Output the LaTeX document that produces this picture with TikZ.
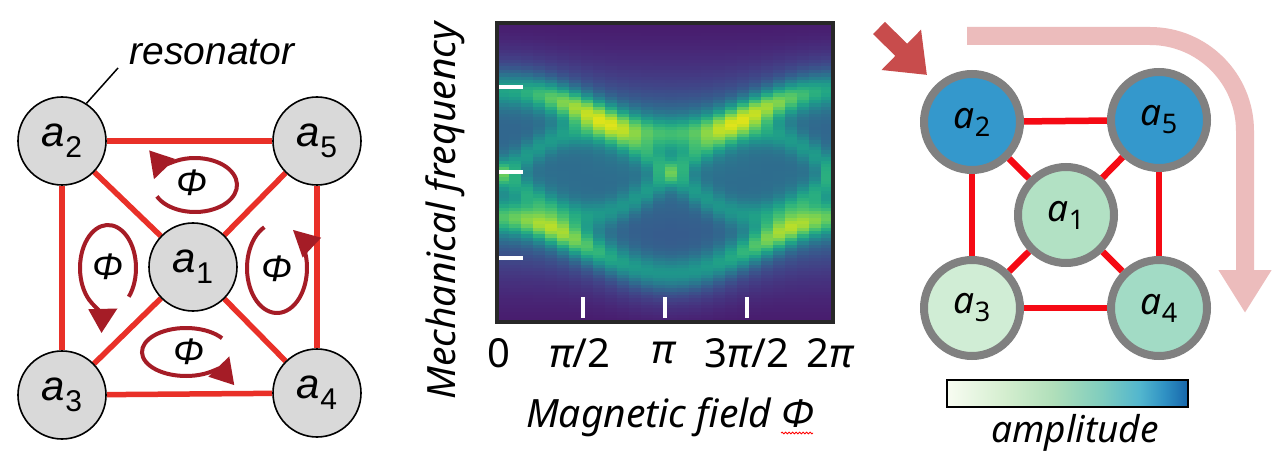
\documentclass[tikz,border=0pt]{standalone}
\usepackage{fontspec}
\setmainfont{Liberation Sans}
\newfontfamily\seg{Noto Sans}
\usepackage{pgfplots}
\pgfplotsset{compat=1.18}
\usetikzlibrary{arrows.meta,backgrounds,decorations.pathmorphing}
\definecolor{lgray}{RGB}{217,217,217}
\definecolor{lred}{RGB}{233,48,40}
\definecolor{loopred}{RGB}{165,28,38}
\definecolor{rred}{RGB}{245,10,20}
\definecolor{ringgray}{RGB}{128,128,128}
\definecolor{cblue}{RGB}{52,152,204}
\definecolor{cgA}{RGB}{178,225,196}
\definecolor{cgC}{RGB}{208,237,213}
\definecolor{cgD}{RGB}{162,219,197}
\definecolor{framegray}{RGB}{40,40,40}
\definecolor{bigred}{RGB}{200,76,76}
\definecolor{pinkarrow}{RGB}{236,188,188}
\definecolor{amA}{RGB}{248,252,242}
\definecolor{amB}{RGB}{212,238,207}
\definecolor{amC}{RGB}{176,223,186}
\definecolor{amD}{RGB}{128,205,190}
\definecolor{amE}{RGB}{82,182,206}
\definecolor{amF}{RGB}{48,146,196}
\definecolor{amG}{RGB}{22,102,170}
\pgfdeclarehorizontalshading{ampl}{100bp}{color(0bp)=(amA); color(25bp)=(amA); color(37bp)=(amB); color(47bp)=(amC); color(57bp)=(amD); color(65bp)=(amE); color(70bp)=(amF); color(75bp)=(amG); color(100bp)=(amG)}
\newcommand{\llab}[1]{{\fontsize{42}{42}\selectfont\itshape a}\raisebox{-11pt}{\fontsize{30}{30}\selectfont #1}}
\newcommand{\rlab}[1]{{\seg\fontsize{37}{37}\selectfont\itshape a}\raisebox{-8pt}{\seg\fontsize{27}{27}\selectfont #1}}
\tikzset{
  lnode/.style={circle, draw=black, line width=1.6pt, fill=lgray, minimum size=88pt, inner sep=0pt},
  rnode/.style={circle, draw=ringgray, line width=8pt, minimum size=96pt, inner sep=0pt},
  ledge/.style={lred, line width=5.5pt},
  redge/.style={rred, line width=6.5pt},
  philoop/.style={loopred, line width=4pt, -{Triangle[length=26pt,width=26pt]}},
  phitext/.style={font=\fontsize{37}{37}\selectfont\itshape, inner sep=0pt},
  whitetick/.style={white, line width=4pt},
  ticklab/.style={font=\seg\fontsize{40}{40}\selectfont, inner sep=0pt},
  axlab/.style={font=\seg\fontsize{39}{39}\selectfont\itshape, inner sep=0pt},
}
\begin{document}
\begin{tikzpicture}[x=1pt,y=1pt]
\useasboundingbox (0,0) rectangle (1280,-465);
\begin{pgfonlayer}{background}
\fill[white] (0,0) rectangle (1280,-465);
\end{pgfonlayer}

% ---------- left panel ----------
\node[lnode] (L1) at (193,-267) {\llab{1}};
\node[lnode] (L2) at (62,-141) {\llab{2}};
\node[lnode] (L5) at (317,-141) {\llab{5}};
\node[lnode] (L3) at (62,-395) {\llab{3}};
\node[lnode] (L4) at (317,-393) {\llab{4}};
\begin{pgfonlayer}{background}
\draw[ledge] (L2) -- (L5);
\draw[ledge] (L3) -- (L4);
\draw[ledge] (L2) -- (L3);
\draw[ledge] (L5) -- (L4);
\draw[ledge] (L1) -- (L2);
\draw[ledge] (L1) -- (L3);
\draw[ledge] (L1) -- (L4);
\draw[ledge] (L1) -- (L5);
\end{pgfonlayer}
\node[font=\fontsize{39}{39}\selectfont\itshape, inner sep=0pt] (res) at (212,-52) {resonator};
\coordinate (resl) at (118,-68);
\draw[black, line width=1.5pt] (L2.57) -- (resl);

% flux loops
\draw[philoop] (195,-185) ++(205:42 and 27) arc[start angle=205, end angle=528, x radius=42, y radius=27];
\draw[philoop] (108,-268) ++(318:28 and 43) arc[start angle=318, end angle=650, x radius=28, y radius=43];
\draw[philoop] (277,-268) ++(115:30 and 45) arc[start angle=115, end angle=418, x radius=30, y radius=45];
\draw[philoop] (186,-352) ++(35:44 and 24) arc[start angle=35, end angle=350, x radius=44, y radius=24];
\node[phitext] (p1) at (192,-183) {Φ};
\node[phitext] (p2) at (108,-267) {Φ};
\node[phitext] (p3) at (277,-269) {Φ};
\node[phitext] (p4) at (189,-352) {Φ};

% ---------- middle panel ----------
\begin{axis}[at={(497pt,-322pt)}, anchor=south west, width=336pt, height=299pt,
  scale only axis, hide axis, view={0}{90}, xmin=0, xmax=1, ymin=23, ymax=322,
  y dir=reverse, colormap/viridis, point meta min=0, point meta max=1,
  enlargelimits=false, declare function={gs(\t)=exp(-(\t)*(\t));}]
\addplot3[surf, shader=flat corner, samples=29, samples y=90, domain=0:1, domain y=23:322]
{0.04 + 0.31*gs((y-172)/100)
 + (0.26+0.24*sin(360*x)*sin(360*x))*gs((y-110+22*cos(360*x))/16)
 + (0.24+0.24*gs((x-0.15)/0.13)+0.24*gs((x-0.85)/0.13))*gs((y-245+28*cos(360*x))/16)
 + 0.20*gs((y-172+42*sin(360*x))/14)
 + 0.20*gs((y-172-42*sin(360*x))/14)
 + 0.13*gs((y-110+22*cos(360*x))/34)
 + 0.13*gs((y-245+28*cos(360*x))/34)};
\end{axis}
\draw[framegray, line width=4.5pt] (497,-23) rectangle (833,-322);
\draw[whitetick] (499,-87) -- (523,-87);
\draw[whitetick] (499,-172) -- (523,-172);
\draw[whitetick] (499,-258) -- (523,-258);
\draw[whitetick] (583,-297) -- (583,-318);
\draw[whitetick] (665,-297) -- (665,-318);
\draw[whitetick] (747,-297) -- (747,-318);
\node[ticklab] (t0) at (499,-353) {0};
\node[ticklab] (t1) at (580,-353) {{\itshape π}/2};
\node[ticklab] (t2) at (663,-353) {{\itshape π}};
\node[ticklab] (t3) at (747,-353) {3{\itshape π}/2};
\node[ticklab] (t4) at (830,-353) {2{\itshape π}};
\node[axlab, rotate=90] (ylab) at (445,-211) {Mechanical frequency};
\node[axlab] (xlab) at (670,-417) {Magnetic field Φ};
\draw[red, line width=0.8pt, decorate, decoration={snake, amplitude=0.9pt, segment length=3.5pt}] (781,-433) -- (813,-433);

% ---------- right panel ----------
\node[rnode, fill=cgA] (R1) at (1066,-215) {\rlab{1}};
\node[rnode, fill=cblue] (R2) at (972,-122) {\rlab{2}};
\node[rnode, fill=cblue] (R5) at (1159,-120) {\rlab{5}};
\node[rnode, fill=cgC] (R3) at (972,-308) {\rlab{3}};
\node[rnode, fill=cgD] (R4) at (1159,-308) {\rlab{4}};
\begin{pgfonlayer}{background}
\draw[redge] (R2) -- (R5);
\draw[redge] (R3) -- (R4);
\draw[redge] (R2) -- (R3);
\draw[redge] (R5) -- (R4);
\draw[redge] (R1) -- (R2);
\draw[redge] (R1) -- (R3);
\draw[redge] (R1) -- (R4);
\draw[redge] (R1) -- (R5);
\end{pgfonlayer}
\coordinate (bigtail) at (879,-28);
\coordinate (bigtip) at (927,-75);
\draw[bigred, line width=17pt, -{Triangle[length=36pt,width=54pt]}] (bigtail) -- (bigtip);
\coordinate (pkstart) at (967,-36);
\coordinate (pkend) at (1245,-313);
\draw[pinkarrow, line width=18pt, -{Triangle[length=43pt,width=50pt]}] (pkstart) -- (1150,-36) arc[start angle=90, end angle=0, radius=95] -- (pkend);
\shade[shading=ampl] (947,-380) rectangle (1188,-407);
\draw[black, line width=2pt] (947,-380) rectangle (1188,-407);
\node[axlab, font=\seg\fontsize{37}{37}\selectfont\itshape] (amp) at (1075,-433) {amplitude};
\end{tikzpicture}
\end{document}
